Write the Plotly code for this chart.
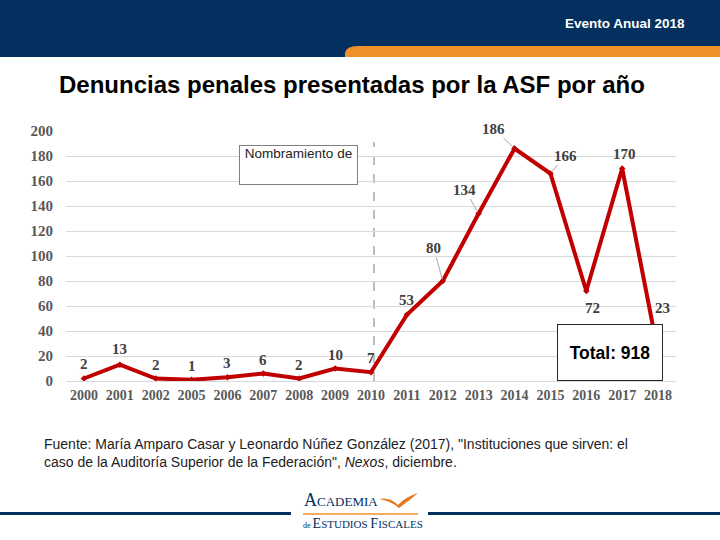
import plotly.graph_objects as go

# ---------------- data ----------------
years = ["2000", "2001", "2002", "2005", "2006", "2007", "2008", "2009", "2010",
         "2011", "2012", "2013", "2014", "2015", "2016", "2017", "2018"]
denuncias = [2, 13, 2, 1, 3, 6, 2, 10, 7, 53, 80, 134, 186, 166, 72, 170, 23]
y_ticks = [0, 20, 40, 60, 80, 100, 120, 140, 160, 180, 200]
total_text = "Total: 918"
title_text = "Denuncias penales presentadas por la ASF por año"
header_text = "Evento Anual 2018"
box_text = "Nombramiento de"
source_line1 = "Fuente: María Amparo Casar y Leonardo Núñez González (2017), \"Instituciones que sirven: el"
source_line2 = "caso de la Auditoría Superior de la Federación\", <i>Nexos</i>, diciembre."

# label placement (pixel offsets from each point, leader flag)
label_offsets = {
    "2000": (0, -15, False), "2001": (0, -16, False), "2002": (0, -14, False),
    "2005": (0, -14, False), "2006": (0, -14, False), "2007": (0, -14, False),
    "2008": (0, -14, False), "2009": (0, -14, False), "2010": (0, -14, False),
    "2011": (0, -15, False), "2012": (-9, -33, True), "2013": (-14, -24, True),
    "2014": (-21, -20, True), "2015": (15, -18, True), "2016": (6, 17, False),
    "2017": (2, -15, False), "2018": (4, -44, False),
}

# ---------------- geometry helpers ----------------
W, H = 720, 540
L, R, T, B = 66, 676, 131, 381  # plot area in pixels


def px(x):
    return (x - L) / (R - L)


def py(y):
    return (B - y) / (B - T)


NAVY = "#03305E"
ORANGE = "#F0922B"
RED = "#C00000"
serif = "Liberation Serif, Times New Roman, serif"
sans = "Liberation Sans, Arial, sans-serif"

fig = go.Figure()
fig.add_trace(go.Scatter(
    x=list(range(len(years))), y=denuncias, mode="lines+markers",
    line=dict(color=RED, width=4),
    marker=dict(color=RED, size=5, symbol="diamond"),
    hoverinfo="y", showlegend=False,
))

annotations = []
for i, (yr, v) in enumerate(zip(years, denuncias)):
    dx, dy, leader = label_offsets[yr]
    if leader:
        annotations.append(dict(
            x=i, y=v, xref="x", yref="y", text=f"<b>{v}</b>",
            showarrow=True, ax=dx, ay=dy, arrowhead=0, arrowwidth=1,
            arrowcolor="#A6A6A6", standoff=2,
            font=dict(family=serif, size=15, color="#404040"),
        ))
    else:
        annotations.append(dict(
            x=i, y=v, xref="x", yref="y", text=f"<b>{v}</b>",
            showarrow=False, xshift=dx, yshift=-dy,
            xanchor="center", yanchor="middle",
            font=dict(family=serif, size=15, color="#404040"),
        ))


def paper_text(x, y, text, font, xanchor="center", **kw):
    return dict(x=px(x), y=py(y), xref="paper", yref="paper", text=text,
                showarrow=False, xanchor=xanchor, yanchor="middle", font=font, **kw)


annotations += [
    paper_text(352, 84, f"<b>{title_text}</b>", dict(family=sans, size=24, color="#000000")),
    paper_text(687, 23, f"<b>{header_text}</b>", dict(family=sans, size=13.5, color="#FFFFFF"),
               xanchor="right"),
    paper_text(298.5, 165, box_text, dict(family=sans, size=13.5, color="#222222"),
               width=117, height=38, valign="top", align="center",
               bgcolor="#FFFFFF", bordercolor="#7F7F7F", borderwidth=1, borderpad=0),
    paper_text(610, 352.5, f"<b>{total_text}</b>", dict(family=sans, size=17.5, color="#000000"),
               width=104, height=55, valign="middle", align="center",
               bgcolor="#FFFFFF", bordercolor="#262626", borderwidth=1, borderpad=0),
    paper_text(42, 444, source_line1, dict(family=sans, size=14, color="#222222"), xanchor="left"),
    paper_text(42, 462, source_line2, dict(family=sans, size=14, color="#222222"), xanchor="left"),
    paper_text(302, 500, "A<span style='font-size:13px'>CADEMIA</span>",
               dict(family=serif, size=18, color=NAVY), xanchor="left"),
    paper_text(301, 523,
               "<span style='font-size:8px'>de </span>E<span style='font-size:11px'>STUDIOS </span>"
               "F<span style='font-size:11px'>ISCALES</span>",
               dict(family=serif, size=14, color=NAVY), xanchor="left"),
]

shapes = [
    # header navy band
    dict(type="rect", xref="paper", yref="paper", x0=px(0), x1=px(720), y0=py(0), y1=py(57),
         fillcolor=NAVY, line=dict(width=0), layer="above"),
    # orange band with rounded left corner
    dict(type="path", xref="paper", yref="paper",
         path=(f"M {px(345)} {py(57)} L {px(345)} {py(53)} Q {px(346)} {py(46)} {px(358)} {py(46)} "
               f"L {px(720)} {py(46)} L {px(720)} {py(57)} Z"),
         fillcolor=ORANGE, line=dict(width=0), layer="above"),
    # dashed reference line
    dict(type="line", xref="paper", yref="paper", x0=px(374), x1=px(374), y0=py(381), y1=py(142),
         line=dict(color="#7F7F7F", width=1, dash="dash"), layer="below"),
    # footer navy lines
    dict(type="line", xref="paper", yref="paper", x0=px(0), x1=px(291), y0=py(513.5), y1=py(513.5),
         line=dict(color=NAVY, width=3), layer="above"),
    dict(type="line", xref="paper", yref="paper", x0=px(428), x1=px(720), y0=py(513.5), y1=py(513.5),
         line=dict(color=NAVY, width=3), layer="above"),
    # orange line in logo
    dict(type="line", xref="paper", yref="paper", x0=px(303), x1=px(418), y0=py(514), y1=py(514),
         line=dict(color=ORANGE, width=1.5), layer="above"),
    # bird swoosh
    dict(type="path", xref="paper", yref="paper",
         path=(f"M {px(379)} {py(499)} Q {px(390)} {py(497)} {px(398)} {py(505)} "
               f"Q {px(405)} {py(497)} {px(418)} {py(493)} Q {px(410)} {py(500)} {px(399)} {py(508)} "
               f"Q {px(391)} {py(501)} {px(379)} {py(499)} Z"),
         fillcolor="#E8781E", line=dict(width=0), layer="above"),
]

fig.update_layout(
    width=W, height=H,
    margin=dict(l=L, r=W - R, t=T, b=H - B),
    paper_bgcolor="#FFFFFF", plot_bgcolor="#FFFFFF",
    annotations=annotations, shapes=shapes,
    xaxis=dict(range=[-0.5, len(years) - 0.5], showgrid=False,
               showline=False, zeroline=False, ticks="",
               tickvals=list(range(len(years))),
               ticktext=[f"<b>{y}</b>" for y in years],
               tickfont=dict(family=serif, size=14, color="#595959"),
               ticklabelstandoff=4, fixedrange=True),
    yaxis=dict(range=[0, 200], tickvals=y_ticks,
               ticktext=[f"<b>{v}</b>" for v in y_ticks],
               showgrid=True, gridcolor="#D9D9D9",
               gridwidth=1, zeroline=True, zerolinecolor="#D9D9D9", zerolinewidth=1,
               showline=False, ticks="",
               tickfont=dict(family=serif, size=15, color="#595959"),
               ticklabelstandoff=12, fixedrange=True),
)

fig.write_html("out.html", config={"displayModeBar": False},
               post_script="document.body.style.margin='0px';")
